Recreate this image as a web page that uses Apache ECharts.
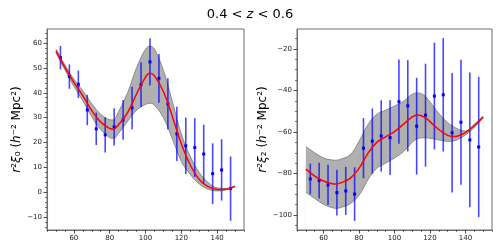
<!DOCTYPE html>
<html><head><meta charset="utf-8">
<script src="https://cdn.jsdelivr.net/npm/echarts@6/dist/echarts.min.js"></script>
<style>html,body{margin:0;padding:0;background:#fff}#c{width:500px;height:250px}</style>
</head><body><div id="c"></div>
<script>
// ---- data ----
const titleText = '0.4 < z < 0.6';
const xTickLabels = [60, 80, 100, 120, 140];
const y0TickLabels = [-10, 0, 10, 20, 30, 40, 50, 60];
const y2TickLabels = [-100, -80, -60, -40, -20];

const rBins = [52.5, 57.5, 62.5, 67.5, 72.5, 77.5, 82.5, 87.5, 92.5, 97.5, 102.5, 107.5, 112.5, 117.5, 122.5, 127.5, 132.5, 137.5, 142.5, 147.5];
const xi0 = [54.1, 46.5, 43.4, 33.1, 25.5, 23.1, 26.3, 29.1, 33.9, 43.3, 52.4, 45.8, 35.5, 23.5, 18.7, 18.0, 15.4, 7.5, 9.0, 1.5];
const xi0Err = [4.7, 4.9, 5.5, 6.1, 6.5, 7.1, 7.5, 8.0, 8.5, 9.0, 9.5, 9.8, 10.3, 10.9, 11.3, 11.8, 11.8, 12.2, 12.3, 12.9];
const xi2 = [-82.6, -83.4, -85.5, -89.2, -88.4, -89.9, -67.8, -64.4, -61.9, -62.7, -45.4, -47.4, -57.2, -51.9, -42.7, -42.1, -60.4, -55.3, -63.8, -67.2];
const xi2Err = [7.4, 8.6, 9.7, 11.0, 11.6, 12.9, 14.5, 15.7, 17.2, 18.0, 20.3, 22.0, 23.3, 24.8, 25.7, 27.3, 28.8, 30.1, 32.4, 33.8];

// model curve and band, monopole
const m0X = [50, 55, 60, 65, 70, 75, 80, 82, 85, 90, 95, 100, 102.5, 105, 110, 115, 120, 125, 130, 135, 140, 145, 150];
const m0 = [56.8, 50.2, 44.2, 38.8, 32.8, 28.2, 25.7, 25.4, 27.2, 32.0, 39.5, 46.3, 47.8, 46.8, 40.5, 30.5, 19.5, 11.0, 5.2, 2.3, 1.2, 1.3, 2.4];
const m0Lo = [56.0, 49.2, 42.6, 36.8, 30.4, 25.2, 22.0, 21.6, 23.8, 28.5, 33.0, 35.3, 35.8, 35.0, 30.0, 21.5, 12.5, 7.2, 3.4, 1.3, 0.6, 1.0, 2.2];
const m0Hi = [57.6, 51.2, 45.5, 40.8, 35.6, 31.4, 29.2, 29.1, 32.5, 40.0, 50.0, 57.5, 58.7, 57.5, 49.0, 36.5, 23.5, 14.5, 8.0, 4.0, 1.8, 1.6, 2.6];

// model curve and band, quadrupole
const m2X = [50, 55, 60, 65, 67, 70, 75, 80, 85, 90, 95, 100, 105, 110, 113, 117, 120, 125, 130, 134, 138, 140, 145, 150];
const m2 = [-77.9, -81.2, -83.6, -84.9, -85.0, -84.4, -82.3, -77.5, -70.3, -65.0, -62.3, -59.8, -56.3, -52.7, -51.8, -52.9, -55.0, -58.8, -61.6, -62.2, -61.2, -60.3, -57.0, -52.8];
const m2Lo = [-89.0, -92.0, -94.8, -96.5, -96.8, -96.3, -94.5, -90.5, -83.0, -77.5, -75.0, -72.5, -69.5, -65.0, -63.2, -62.8, -63.0, -63.8, -64.5, -64.2, -62.5, -61.5, -57.8, -53.3];
const m2Hi = [-67.0, -70.0, -72.5, -73.5, -73.6, -73.0, -71.0, -64.5, -56.5, -51.5, -49.5, -47.5, -45.3, -41.8, -41.2, -42.5, -45.5, -51.0, -55.5, -57.8, -59.3, -59.5, -56.2, -52.3];

// ---- chart ----
const FONT = 'DejaVu Sans';
const spine = '#6e6e6e';
function range(a, b, s) { const r = []; for (let v = a; v <= b + 1e-9; v += s) r.push(+v.toFixed(3)); return r; }
const minusFmt = v => String(v).replace('-', '\u2212');

function mainX(gi) {
  return { type: 'value', gridIndex: gi, min: 45, max: 155, position: 'bottom', z: 10,
    splitLine: { show: false },
    axisLine: { show: true, onZero: false, lineStyle: { color: spine, width: 1 } },
    axisTick: { show: true, length: 3.5, inside: false, customValues: xTickLabels, lineStyle: { color: '#222', width: 0.8 } },
    axisLabel: { customValues: xTickLabels, fontFamily: FONT, fontSize: 7, color: '#222', margin: 5 } };
}
function minorX(gi) {
  const mv = range(45, 155, 5).filter(v => xTickLabels.indexOf(v) < 0);
  return { type: 'value', gridIndex: gi, min: 45, max: 155, position: 'bottom', z: 10,
    splitLine: { show: false }, axisLine: { show: false, onZero: false },
    axisTick: { show: true, length: 2, customValues: mv, lineStyle: { color: '#222', width: 0.6 } },
    axisLabel: { show: false } };
}
function mainY(gi, mn, mx, ticks, name) {
  return { type: 'value', gridIndex: gi, min: mn, max: mx, position: 'left', z: 10,
    splitLine: { show: false },
    axisLine: { show: true, onZero: false, lineStyle: { color: spine, width: 1 } },
    axisTick: { show: true, length: 3.5, customValues: ticks, lineStyle: { color: '#222', width: 0.8 } },
    axisLabel: { customValues: ticks, fontFamily: FONT, fontSize: 7, color: '#222', margin: 5, formatter: minusFmt },
    name: name, nameLocation: 'middle', nameRotate: 90, nameGap: 22,
    nameTextStyle: { fontFamily: FONT, fontSize: 12, color: '#000',
      rich: { i: { fontFamily: FONT, fontSize: 12, fontStyle: 'italic', color: '#000' },
              t: { fontFamily: FONT, fontSize: 12, color: '#000' } } } };
}
function minorY(gi, mn, mx, ticks, step) {
  const mv = range(Math.ceil(mn / step) * step, mx, step).filter(v => ticks.indexOf(v) < 0);
  return { type: 'value', gridIndex: gi, min: mn, max: mx, position: 'left', z: 10,
    splitLine: { show: false }, axisLine: { show: false, onZero: false },
    axisTick: { show: true, length: 2, customValues: mv, lineStyle: { color: '#222', width: 0.6 } },
    axisLabel: { show: false } };
}

function errItem(params, api) {
  const x = api.value(0), y = api.value(1), e = api.value(2);
  const p = api.coord([x, y]), t = api.coord([x, y + e]), b = api.coord([x, y - e]);
  return { type: 'group', children: [
    { type: 'line', shape: { x1: p[0], y1: t[1], x2: p[0], y2: b[1] }, style: { stroke: 'rgba(0,0,255,0.72)', lineWidth: 1.6 } },
    { type: 'rect', shape: { x: p[0] - 1.5, y: p[1] - 1.5, width: 3, height: 3 }, style: { fill: '#0000ff' } }
  ] };
}

function panelSeries(gi, mx, mod, lo, hi, vals, errs) {
  const ax = { xAxisIndex: gi * 2, yAxisIndex: gi * 2 };
  return [
    // band: grey fill under the upper edge, then white fill under the lower edge
    Object.assign({ type: 'line', smooth: 0.4, symbol: 'none', z: 1, silent: true,
      data: mx.map((x, i) => [x, hi[i]]), lineStyle: { color: '#777', width: 0.8 },
      areaStyle: { color: '#b0b0b0', opacity: 1, origin: 'start' } }, ax),
    Object.assign({ type: 'line', smooth: 0.4, symbol: 'none', z: 1, silent: true,
      data: mx.map((x, i) => [x, lo[i]]), lineStyle: { color: '#777', width: 0.8 },
      areaStyle: { color: '#ffffff', opacity: 1, origin: 'start' } }, ax),
    Object.assign({ type: 'custom', renderItem: errItem, z: 2,
      data: rBins.map((x, i) => [x, vals[i], errs[i]]) }, ax),
    Object.assign({ type: 'line', smooth: 0.4, symbol: 'none', z: 3,
      data: mx.map((x, i) => [x, mod[i]]), lineStyle: { color: '#ff0000', width: 1.5 } }, ax)
  ];
}

const chart = echarts.init(document.getElementById('c'), null, { renderer: 'canvas' });
chart.setOption({
  animation: false,
  backgroundColor: '#fff',
  title: { text: '{a|0.4 < }{i|z}{a| < 0.6}', left: 'center', top: 3,
    textStyle: { fontWeight: 'normal', fontSize: 13, fontFamily: FONT,
      rich: { a: { fontFamily: FONT, fontSize: 13, fontWeight: 'normal', color: '#000' },
              i: { fontFamily: FONT, fontSize: 13, fontWeight: 'normal', fontStyle: 'italic', color: '#000' } } } },
  grid: [
    { left: 47, top: 29, width: 197, height: 201, show: true, borderColor: spine, borderWidth: 1, backgroundColor: 'transparent', z: 10 },
    { left: 297, top: 29, width: 195, height: 201, show: true, borderColor: spine, borderWidth: 1, backgroundColor: 'transparent', z: 10 }
  ],
  xAxis: [mainX(0), minorX(0), mainX(1), minorX(1)],
  yAxis: [
    mainY(0, -15.1, 65.6, y0TickLabels, '{i|r}{t|²}{i|ξ}{t|₀ (}{i|h}{t|⁻² Mpc²)}'),
    minorY(0, -15.1, 65.6, y0TickLabels, 2),
    mainY(1, -107.2, -10.4, y2TickLabels, '{i|r}{t|²}{i|ξ}{t|₂ (}{i|h}{t|⁻² Mpc²)}'),
    minorY(1, -107.2, -10.4, y2TickLabels, 5)
  ],
  series: [].concat(
    panelSeries(0, m0X, m0, m0Lo, m0Hi, xi0, xi0Err),
    panelSeries(1, m2X, m2, m2Lo, m2Hi, xi2, xi2Err)
  )
});
</script></body></html>
